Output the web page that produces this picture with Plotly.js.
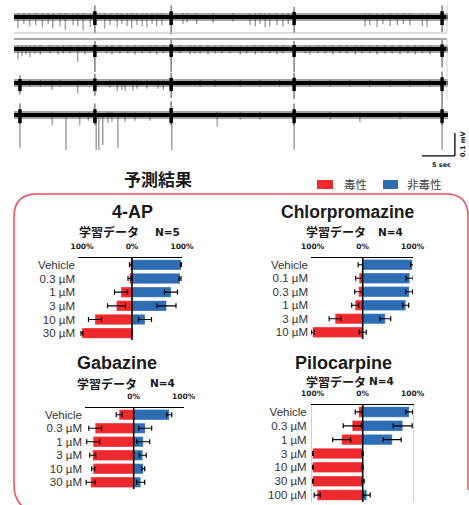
<!DOCTYPE html>
<html><head><meta charset="utf-8">
<script src="https://cdn.plot.ly/plotly-3.0.1.min.js"></script>
<style>html,body{margin:0;padding:0;background:#fff}#chart{width:469px;height:505px}</style>
</head><body><div id="chart"></div>
<script>
// ================= DATA =================
// Recording traces: spike times (s) and downward amplitudes (mV)
const t1Spikes = [0.6,1.5,2.4,3.3,4.3,5.2,5.9,7.0,7.8,9.0,9.7,10.5,11.6,13.8,14.6,15.7,16.4,17.2,17.9,18.7,19.5,20.2,21.0,21.7,22.5,25.7,26.3,27.8,30.3,33.3,35.9,36.7,37.4,38.2,38.9,40.0,40.9,41.7,53.4,54.1,55.2,56.1,57.2,58.3,59.2,60.2,62.1,62.8];
const a1Spikes = [0.05,0.03,0.04,0.035,0.045,0.03,0.05,0.04,0.055,0.035,0.04,0.06,0.045,0.05,0.035,0.045,0.03,0.04,0.05,0.035,0.04,0.045,0.03,0.04,0.035,0.03,0.025,0.03,0.025,0.02,0.035,0.04,0.03,0.045,0.04,0.035,0.04,0.03,0.04,0.035,0.045,0.03,0.04,0.035,0.03,0.035,0.04,0.045];
const t2Spikes = [0.6,1.2,1.8,2.4,3.2,4.0,5.5,6.7,7.5,8.5,9.7,10.8,14.1,14.9,16.1,17.3,18.4,19.5,20.7,21.7,22.7,25.2,26.8,27.5,28.3,29.5,30.6,31.6,32.9,34.4,35.4,36.7,37.7,38.9,40.0,40.9,44.3,45.0,46.2,47.3,48.5,49.6,50.6,51.9,52.9,54.1,55.2,56.4,57.5,58.7,59.9,61.0,62.1,63.3];
const a2Spikes = [0.045,0.03,0.025,0.035,0.02,0.025,0.02,0.025,0.02,0.02,0.055,0.025,0.02,0.025,0.02,0.02,0.025,0.02,0.02,0.025,0.02,0.02,0.025,0.02,0.02,0.025,0.02,0.02,0.02,0.025,0.02,0.025,0.02,0.02,0.025,0.02,0.02,0.025,0.02,0.02,0.025,0.02,0.02,0.025,0.02,0.02,0.025,0.02,0.02,0.025,0.02,0.025,0.02,0.025];
const t3Spikes = [2.4,4.0,5.8,7.0,9.7,14.6,15.7,16.4,16.9,18.1,18.7,20.2,21.9,22.7,28.3,30.6,34.4,37.4,40.4,45.0,48.1,51.1,54.1,57.2,60.2,63.2];
const a3Spikes = [0.015,0.015,0.03,0.015,0.045,0.02,0.035,0.03,0.035,0.035,0.025,0.025,0.025,0.03,0.015,0.015,0.015,0.015,0.015,0.015,0.015,0.015,0.015,0.015,0.015,0.015];
const t4Spikes = [5.8,10.0,11.3,14.3,14.9,16.9,18.4,20.7,30.9,34.4,37.4,48.1,52.6,58.7];
const a4Spikes = [0.045,0.045,0.025,0.035,0.03,0.03,0.025,0.025,0.05,0.02,0.02,0.02,0.03,0.02];
const t4Long = [0.9,7.9,12.5,12.9,13.5,15.8,24.0,42.6,65.1];
const a4Long = [0.145,0.152,0.152,0.152,0.13,0.142,0.152,0.15,0.152];
// synchronized bursts
const t1Burst = [12.3,23.9,42.6,65.1], d1Burst = [0.07,0.075,0.07,0.065], u1Burst = [0.05,0.05,0.045,0.05];
const t2Burst = [12.3,23.9,42.6,65.1], d2Burst = [0.10,0.10,0.10,0.08], u2Burst = [0.035,0.04,0.035,0.04];
const t3Burst = [0.9,12.3,23.9,42.6,65.1], d3Burst = [0.05,0.055,0.065,0.07,0.09], u3Burst = [0.035,0.04,0.045,0.045,0.05];
const t4Burst = [0.9,12.3,23.9,42.6,65.1], d4Burst = [0.04,0.045,0.045,0.045,0.045], u4Burst = [0.05,0.05,0.06,0.05,0.05];

// Prediction results (% toxic / % non-toxic, with error)
const apLabels = ['Vehicle','0.3 µM','1 µM','3 µM','10 µM','30 µM'];
const apToxic = [3,5,22,31,74,100], apToxicErr = [2,3,13,18,13,2];
const apNon = [98,96,78,69,26,0], apNonErr = [1,2,13,19,13,0];

const cpLabels = ['Vehicle','0.1 µM','0.3 µM','1 µM','3 µM','10 µM'];
const cpToxic = [1,7,8,15,55,100], cpToxicErr = [8,7,8,7,12,3];
const cpNon = [99,94,93,86,45,0], cpNonErr = [3,7,7,6,11,7];

const gbLabels = ['Vehicle','0.3 µM','1 µM','3 µM','10 µM','30 µM'];
const gbToxic = [29,77,81,82,81,86], gbToxicErr = [6,13,13,6,3,9];
const gbNon = [71,23,19,18,19,14], gbNonErr = [5,13,13,7,3,8];

const pcLabels = ['Vehicle','0.3 µM','1 µM','3 µM','10 µM','30 µM','100 µM'];
const pcToxic = [8,21,42,100,100,100,91], pcToxicErr = [7,18,18,1,1,1,6];
const pcNon = [93,80,59,0,0,1,8], pcNonErr = [7,19,18,1,1,2,7];

const tickVals = [-100,0,100], tickText = ['100%','0%','100%'];

// ================= DRAWING =================
const W = 469, H = 505;
const px = p => p / W, py = p => 1 - p / H;
const RED = '#EE2A2E', BLUE = '#2E6DB4';
const data = [];

// --- traces ---
const bases = [-0.074, -0.213, -0.361, -0.500];
const SMALL_UP = 0.014;
function segs(times, down, up, base) {
  const xs = [], ys = [];
  times.forEach((t, i) => { xs.push(t, t, null); ys.push(base + up[i], base - down[i], null); });
  return {xs, ys};
}
function line(s, color, w) {
  return {type:'scatter', mode:'lines', x:s.xs, y:s.ys, xaxis:'x', yaxis:'y',
          line:{color, width:w}, hoverinfo:'skip', connectgaps:false};
}
const spikeSets = [[t1Spikes,a1Spikes],[t2Spikes,a2Spikes],[t3Spikes,a3Spikes],[t4Spikes,a4Spikes]];
const burstSets = [[t1Burst,d1Burst,u1Burst],[t2Burst,d2Burst,u2Burst],[t3Burst,d3Burst,u3Burst],[t4Burst,d4Burst,u4Burst]];
bases.forEach((b, k) => {
  const [ts, as] = spikeSets[k];
  data.push(line(segs(ts, as, ts.map(() => SMALL_UP), b), 'rgba(0,0,0,0.4)', 1.3));
  if (k === 3) data.push(line(segs(t4Long, a4Long, t4Long.map(() => 0), b), 'rgba(0,0,0,0.4)', 1.4));
  const [bt, bd, bu] = burstSets[k];
  data.push(line(segs(bt, bd, bu, b), 'rgba(0,0,0,0.5)', 1.5));
  data.push({type:'scatter', mode:'lines', x:[0,66], y:[b,b], xaxis:'x', yaxis:'y', line:{color:'rgba(0,0,0,0.35)', width:8}, hoverinfo:'skip'});
  data.push({type:'scatter', mode:'lines', x:[0,66], y:[b,b], xaxis:'x', yaxis:'y', line:{color:'#000', width:4.2}, hoverinfo:'skip'});
  data.push(line(segs(bt, bd.map(v => Math.min(v, 0.035)), bu.map(v => v * 0.5), b), '#000', 3.5));
});

// --- bar panels ---
const panels = [
  {lab:apLabels, tox:apToxic, te:apToxicErr, non:apNon, ne:apNonErr, n:2, xd:[78,182], xr:[-108,100], yd:[258,340]},
  {lab:cpLabels, tox:cpToxic, te:cpToxicErr, non:cpNon, ne:cpNonErr, n:3, xd:[311,413], xr:[-103.4,100.6], yd:[258,339]},
  {lab:gbLabels, tox:gbToxic, te:gbToxicErr, non:gbNon, ne:gbNonErr, n:4, xd:[85,184], xr:[-97.4,100.6], yd:[408,489]},
  {lab:pcLabels, tox:pcToxic, te:pcToxicErr, non:pcNon, ne:pcNonErr, n:5, xd:[312,413], xr:[-101.4,100.6], yd:[405,502], frame:true}
];
const layout = {
  width: W, height: H, margin:{l:0,r:0,t:0,b:0}, paper_bgcolor:'#fff', plot_bgcolor:'rgba(0,0,0,0)',
  showlegend:false, barmode:'relative', bargap:0.24,
  xaxis:{domain:[px(14), px(462)], range:[0,68.13], visible:false, fixedrange:true},
  yaxis:{domain:[py(160), 1], range:[-0.6957, 0], visible:false, fixedrange:true},
  shapes:[], annotations:[]
};
const errStyle = {type:'data', symmetric:true, color:'#000', thickness:1.2, width:2.5};
panels.forEach(p => {
  const xa = 'x' + p.n, ya = 'y' + p.n;
  data.push({type:'bar', orientation:'h', y:p.lab, x:p.tox.map(v => -v), xaxis:xa, yaxis:ya,
    marker:{color:RED, line:{color:'rgba(255,255,255,0.5)', width:0.6}},
    error_x:Object.assign({array:p.te}, errStyle), hoverinfo:'skip'});
  data.push({type:'bar', orientation:'h', y:p.lab, x:p.non, xaxis:xa, yaxis:ya,
    marker:{color:BLUE, line:{color:'rgba(255,255,255,0.5)', width:0.6}},
    error_x:Object.assign({array:p.ne}, errStyle), hoverinfo:'skip'});
  layout['xaxis' + p.n] = {domain:[px(p.xd[0]), px(p.xd[1])], range:p.xr, anchor:ya, side:'top',
    showline:true, linecolor:'#000', linewidth:1.5, showgrid:false, zeroline:false,
    tickvals:tickVals, ticktext:tickText, ticks:'outside', ticklen:5, tickcolor:'rgba(0,0,0,0)',
    tickfont:{family:'DejaVu Sans', size:7.5, color:'#222', weight:'bold'}, fixedrange:true};
  layout['yaxis' + p.n] = {domain:[py(p.yd[1]), py(p.yd[0])], anchor:xa, type:'category',
    categoryorder:'array', categoryarray:p.lab, range:[p.lab.length - 0.5, -0.5],
    tickmode:'array', tickvals:p.lab, ticktext:p.lab,
    showline:!!p.frame, linecolor:'#cfcfcf', linewidth:1, mirror:!!p.frame, showgrid:false, zeroline:false,
    ticks:'', ticklabelstandoff:2,
    tickfont:{family:'Liberation Sans, Arial, sans-serif', size:11.5, color:'#333'}, fixedrange:true};
  layout.shapes.push({type:'line', xref:xa, yref:ya + ' domain', x0:0, x1:0, y0:0, y1:1,
    line:{color:'#000', width:1.6}, layer:'above'});
});

// --- decorations ---
const P = (x, y) => px(x) + ',' + py(y);
layout.shapes.push(
  {type:'path', xref:'paper', yref:'paper', line:{color:'#E9505C', width:1.5},
   path:'M' + P(14,217) + ' Q' + P(14,194) + ' ' + P(37,194) + ' L' + P(446,194) + ' Q' + P(468,194) + ' ' + P(468,216) +
        ' L' + P(468,490) + ' M' + P(14,217) + ' L' + P(14,484) + ' Q' + P(14,512) + ' ' + P(42,512)},
  {type:'line', xref:'paper', yref:'paper', x0:px(14), x1:px(447), y0:py(33), y1:py(33), line:{color:'#bdbdbd', width:1}},
  {type:'line', xref:'paper', yref:'paper', x0:px(14), x1:px(447), y0:py(39), y1:py(39), line:{color:'#a8a8a8', width:2}},
  {type:'line', xref:'paper', yref:'paper', x0:px(447), x1:px(447), y0:py(5), y1:py(33), line:{color:'#cfcfcf', width:1}},
  {type:'line', xref:'paper', yref:'paper', x0:px(447), x1:px(447), y0:py(39), y1:py(100), line:{color:'#d5d5d5', width:1}},
  // scale bar 5 s / 0.1 mV
  {type:'line', xref:'x', yref:'y', x0:62.05, x1:67.05, y0:-0.678, y1:-0.678, line:{color:'#000', width:1.3}},
  {type:'line', xref:'x', yref:'y', x0:67.05, x1:67.05, y0:-0.678, y1:-0.578, line:{color:'#000', width:1.3}},
  // legend swatches
  {type:'rect', xref:'paper', yref:'paper', x0:px(317), x1:px(333), y0:py(189), y1:py(180), fillcolor:RED, line:{width:0}},
  {type:'rect', xref:'paper', yref:'paper', x0:px(383), x1:px(398), y0:py(189), y1:py(180), fillcolor:BLUE, line:{width:0}}
);
function ann(text, x, y, size, family, opts) {
  layout.annotations.push(Object.assign({text, x:px(x), y:py(y), xref:'paper', yref:'paper', showarrow:false,
    xanchor:'center', yanchor:'middle', font:{size, family, color:'#1a1a1a'}}, opts || {}));
}
const TITLE_F = 'Liberation Sans, Arial, sans-serif';
const CJK = 'Noto Sans CJK JP, sans-serif';
ann('<b>予測結果</b>', 158, 178, 17, CJK);
ann('毒性', 342, 184, 11.5, CJK, {xanchor:'left', font:{size:11.5, family:CJK, color:'#444'}});
ann('非毒性', 405, 184, 11.5, CJK, {xanchor:'left', font:{size:11.5, family:CJK, color:'#444'}});
ann('<b>5 sec</b>', 441, 165, 6.5, 'DejaVu Sans');
ann('<b>0.1 mV</b>', 463, 144, 6.5, 'DejaVu Sans', {textangle:-90});
ann('<b>4-AP</b>', 132, 212, 18, TITLE_F);
ann('<b>Chlorpromazine</b>', 347, 212, 17.5, TITLE_F);
ann('<b>Gabazine</b>', 117, 363, 18, TITLE_F);
ann('<b>Pilocarpine</b>', 343, 363, 18, TITLE_F);
ann('<b>学習データ</b>', 109, 232, 12, CJK);
ann('<b>N=5</b>', 167, 232, 10.5, 'DejaVu Sans');
ann('<b>学習データ</b>', 336, 232, 12, CJK);
ann('<b>N=4</b>', 390, 232, 10.5, 'DejaVu Sans');
ann('<b>学習データ</b>', 107, 383, 12, CJK);
ann('<b>N=4</b>', 162, 383, 10.5, 'DejaVu Sans');
ann('<b>学習データ</b>', 336, 381, 12, CJK);
ann('<b>N=4</b>', 381, 381, 10.5, 'DejaVu Sans');

Plotly.newPlot('chart', data, layout, {displayModeBar:false, staticPlot:true});
</script>
</body></html>
